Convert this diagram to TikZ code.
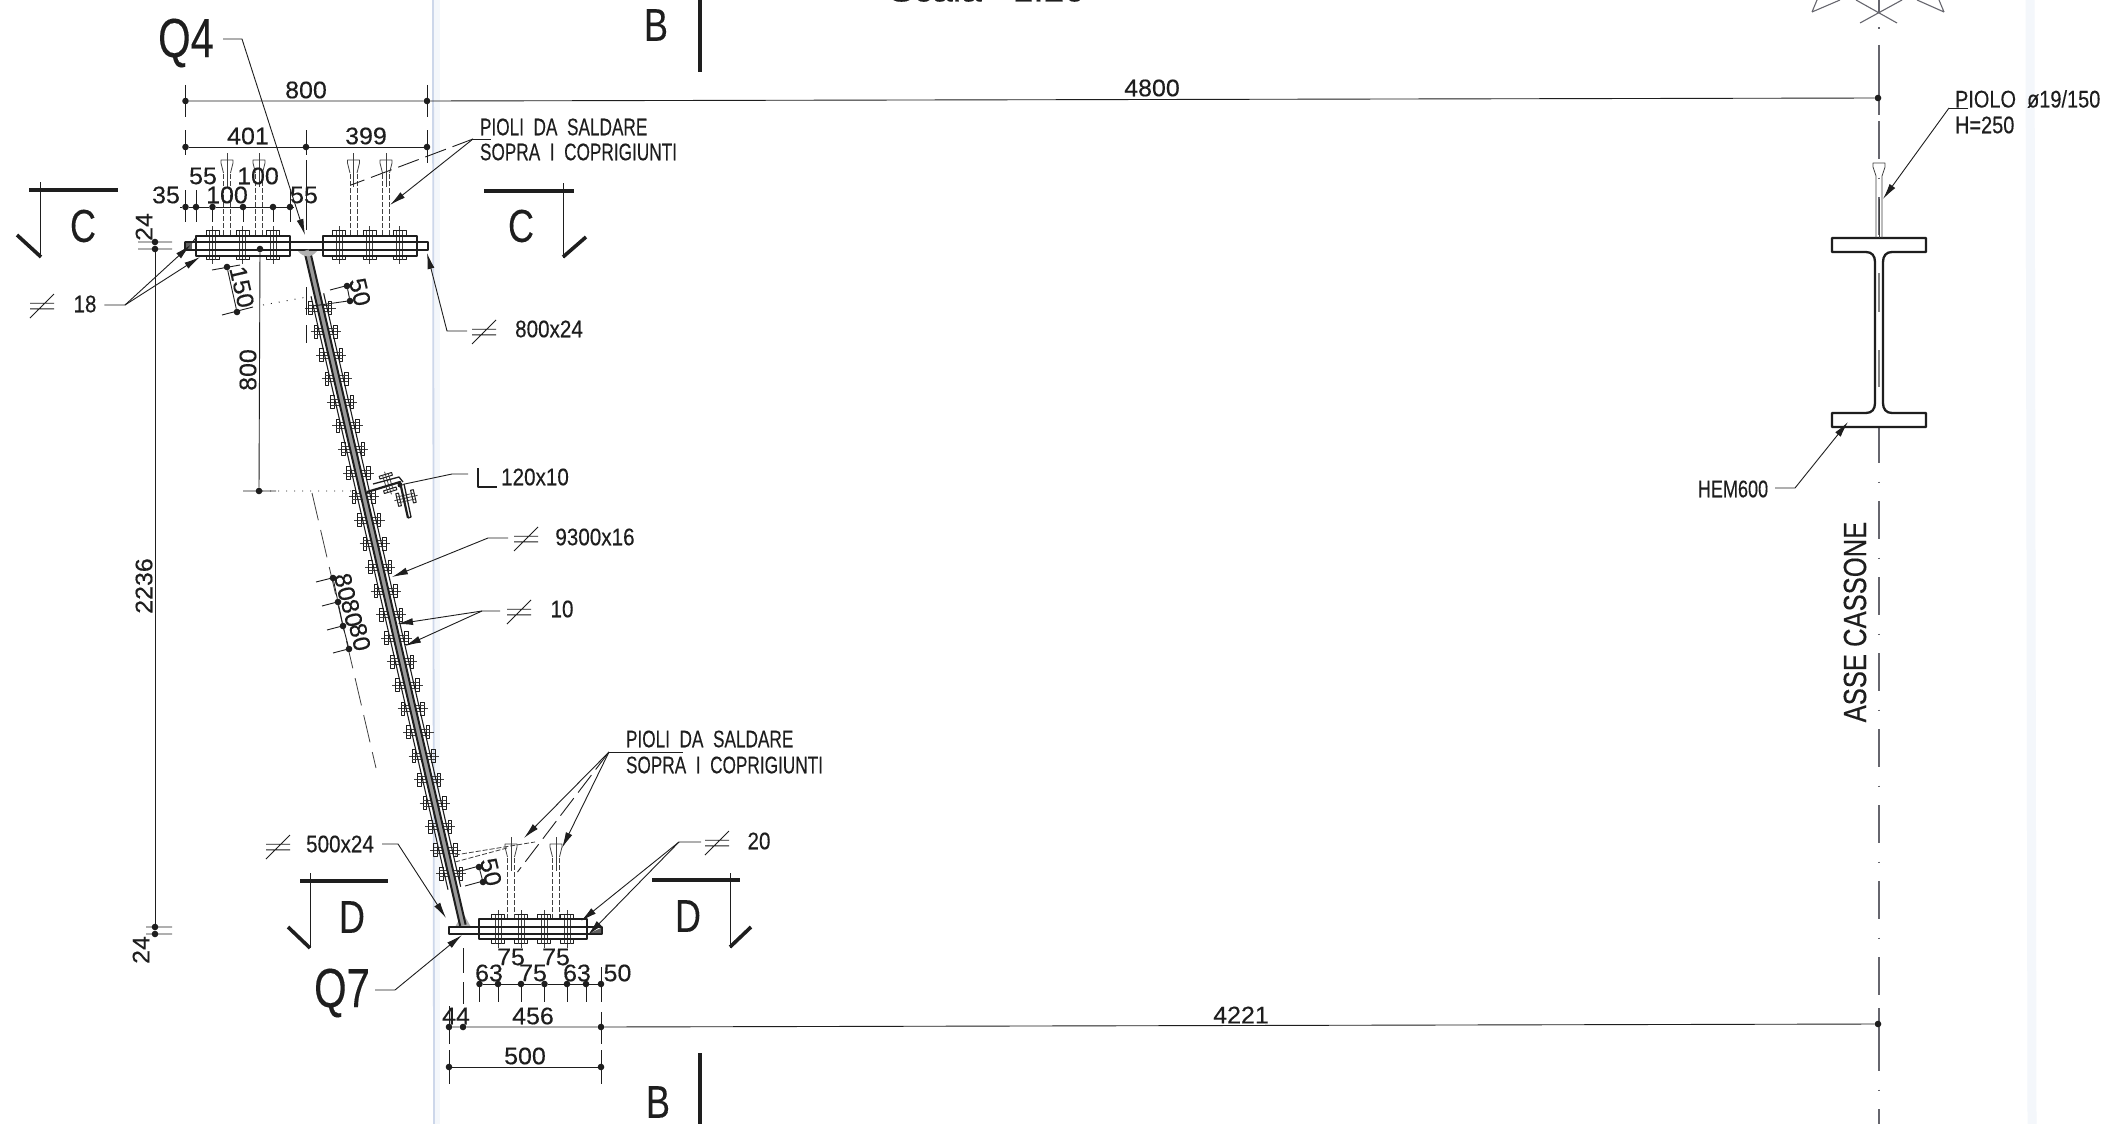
\documentclass[tikz,border=0pt]{standalone}
\usepackage{fontspec}
\setmainfont[FakeBold=0.25]{Liberation Sans}
\usetikzlibrary{arrows.meta}
\definecolor{ink}{HTML}{1E1E1E}
\definecolor{axisgray}{HTML}{66666E}
\definecolor{foldblue}{HTML}{CDD7EA}
\definecolor{foldpale}{HTML}{F4F7FB}
\begin{document}
\begin{tikzpicture}
[x=1pt,y=-1pt,line join=round]
\tikzset{every node/.style={text=ink,inner sep=0pt,outer sep=0pt}}
\tikzset{dimline/.style={draw=ink,line width=0.9pt},
         thinline/.style={draw=ink!85,line width=0.8pt},
         leader/.style={draw=ink,line width=0.9pt},
         tipped/.style={leader,-{Latex[length=16pt,width=7pt]}},
         plate/.style={draw=ink,line width=2.3pt},
         cover/.style={draw=ink,line width=1.3pt},
         sectionbar/.style={draw=ink,line width=4.4pt},
         sectiontick/.style={draw=ink,line width=3.6pt},
         dimdot/.style={circle,fill=ink,minimum size=6.6pt},
         dimtext/.style={font=\fontsize{24}{26}\selectfont,xscale=1.04,transform shape},
         labeltext/.style={font=\fontsize{24}{26}\selectfont,xscale=.86,transform shape},
         capstext/.style={font=\fontsize{24}{26}\selectfont,xscale=.717,transform shape},
         lettertext/.style={font=\fontsize{46}{48}\selectfont,xscale=.78,transform shape},
         bigtext/.style={font=\fontsize{55}{58}\selectfont,xscale=.76,transform shape},
         pics/bolt/.style={code={
             \draw[thinline] (0,-19) -- (0,19);
             \draw[cover,line width=1pt] (-6.5,-10) rectangle (6.5,-14.5) (-6.5,10) rectangle (6.5,14.5);
             \draw[thinline] (-3,-14.5) -- (-3,14.5) (3,-14.5) -- (3,14.5);
         }},
         pics/stud/.style={code={
             \draw[thinline] (0,-82) -- (0,-48);
             \draw[thinline,dash pattern=on 5pt off 2pt] (-3.5,0) -- (-3.5,-62) (3.5,0) -- (3.5,-62);
             \draw[thinline] (-3.5,-62) -- (-6,-72) -- (-6,-75) -- (6,-75) -- (6,-72) -- (3.5,-62);
         }},
         pics/platesign/.style={code={
             \draw[leader] (-12,-2.8) -- (12,-2.8) (-12,2.8) -- (12,2.8) (-12,12) -- (12,-12);
         }}}
\clip (0,0) rectangle (2113,1124);
\fill[white] (0,0) rectangle (2113,1124);
% scan folds
\draw[foldpale,line width=9pt] (2030,0) -- (2032,1124);
\draw[foldpale,line width=7pt] (436,0) -- (436,1124);
\draw[foldblue,line width=1.8pt] (433,0) -- (434,1124);

% beam axis
\draw[axisgray,line width=1.1pt,dash pattern=on 38pt off 18.5pt on 1.5pt off 18pt] (1879,45) -- (1879,1124);
\draw[axisgray,line width=1.1pt] (1879,0) -- (1879,12) (1879,83) -- (1879,115) (1879,1008) -- (1879,1069);
\fill[axisgray] (1878.3,27.5) rectangle (1879.7,29);
\draw[axisgray,line width=1.1pt] (1812,12) -- (1817,0) (1812,12) -- (1840,0)
    (1944,12) -- (1939,0) (1944,12) -- (1917,0)
    (1860,23) -- (1902,0) (1897,23) -- (1856,0);

% section marks
\draw[sectionbar] (29,190) -- (118,190);
\draw[leader] (40,182) -- (40,257);
\draw[sectiontick] (17,235) -- (41,257);
\draw[sectionbar] (484,191) -- (574,191);
\draw[leader] (563,183) -- (563,258);
\draw[sectiontick] (563,257) -- (586,237);
\draw[sectionbar] (300,881) -- (388,881);
\draw[leader] (310,873) -- (310,948);
\draw[sectiontick] (288,927) -- (310,948);
\draw[sectionbar] (652,880) -- (740,880);
\draw[leader] (730,873) -- (730,948);
\draw[sectiontick] (730,947) -- (751,927);
\draw[sectiontick] (700,0) -- (700,72);
\draw[sectiontick] (700,1053) -- (700,1124);
\foreach \x/\y/\t [count=\k] in {83/226/C,521/226/C,352/917/D,688/916/D,656/25/B,658/1102/B}
    \node[lettertext] (sect\k) at (\x,\y) {\t};

% top flange
\foreach \x in {212.5,242.5,273,339,369.5,399.5}
    \pic at (\x,245) {bolt};
\foreach \x in {227,259,353.5,386}
    \pic at (\x,235) {stud};
\draw[cover] (196,236) rectangle (290,256) (323,236) rectangle (417,256);
\draw[plate] (185.5,242) rectangle (428,250);
\fill[ink!70] (186,243) rectangle (192,249);
\draw[leader] (192,243) -- (197,236);

% bottom flange
\foreach \x in {498,521,544,567}
    \pic at (\x,929) {bolt};
\foreach \x in {511,556}
    \pic at (\x,919) {stud};
\fill[ink!35] (455,927) -- (463,913) -- (471,927) -- cycle;
\draw[cover] (479,919) rectangle (587,939);
\draw[plate] (449,927) rectangle (602,934);
\fill[ink!70] (590,933) -- (601,933) -- (601,928) -- cycle;

% sloping web
\begin{scope}[shift={(307,250)},rotate=13]
\foreach \i in {0,...,24}
    \pic[rotate=90,yscale=.8] at (0,{59.5+24.2*\i}) {bolt};
\fill[ink!45] (-2.5,0) rectangle (2.5,693);
\draw[plate,line width=2pt] (-2.8,0) -- (-2.8,693) (2.8,0) -- (2.8,693);
\draw[cover,line width=1.1pt] (-6.5,46) -- (-6.5,655) (6.5,46) -- (6.5,655);
\end{scope}
\fill[ink!35] (298,251) .. controls (303,258) and (312,258) .. (317,251) -- cycle;

% bracket angle
\pic[rotate=17,yscale=.62] at (388,483) {bolt};
\pic[rotate=-77,yscale=.62] at (406,498) {bolt};
\draw[plate,line width=2.2pt] (367,492) -- (400,482) -- (408,518);
\draw[cover] (373,484) -- (399,477) -- (403,482) (404,484) -- (411,517) -- (408,518);

% connection dashes
\draw[thinline,dash pattern=on 5pt off 2pt] (455,855) -- (535,842) (455,862) -- (507,848);
\draw[thinline,dash pattern=on 28pt off 10pt] (312,493) -- (376,768);
\draw[dimline,dash pattern=on 1pt off 7pt] (263,305) -- (307,297) (262,491) -- (352,491);

% dimension dots
\foreach \x/\y/\name in {185.5/101/a1,427/101/a2,1878/98/a3,185.5/147/b1,306/147/b2,427/147/b3,
    185.5/207/c1,196/207/c2,212.5/207/c3,243/207/c4,273/207/c5,290/207/c6,
    155/242/h1,155/249/h2,155/927/h3,155/934/h4,260/249/v1,259/491/v2,227/267/p1,237/312/p2,
    347/286/q1,350/301/q2,333/578/r1,338/602/r2,343/626/r3,349/649/r4,479/867/s1,483/882/s2,
    479.5/984/t1,498/984/t2,521/984/t3,544.5/984/t4,567/984/t5,586/984/t6,601/984/t7,
    449/1027/u1,463/1027/u2,601/1027/u3,1878/1024/u4,449/1067/w1,601/1067/w2}
    \node[dimdot] (\name) at (\x,\y) {};
\draw[dimline] (a1) -- (a2) -- (a3);
\draw[dimline] (b1) -- (b2) -- (b3);
\draw[dimline] (180,207) -- (c1) -- (c2) -- (c3) -- (c4) -- (c5) -- (c6) -- (294,207);
\draw[dimline] (h2) -- (h3);
\draw[dimline] (v1) -- (v2);
\draw[dimline] (p1) -- (p2);
\draw[dimline] (q1) -- (q2);
\draw[dimline] (s1) -- (s2);
\draw[dimline] (r1) -- (r2) -- (r3) -- (r4);
\draw[dimline] (t1) -- (t2) -- (t3) -- (t4) -- (t5) -- (t6) -- (t7);
\draw[dimline] (u1) -- (u2) -- (u3) -- (u4);
\draw[dimline] (w1) -- (w2);
% vertical ticks
\foreach \x/\a/\b in {185.5/85/117,427/85/117,185.5/130/155,306/130/155,427/130/163,
    185.5/190/222,196/190/222,212.5/207/222,243/207/222,273/207/222,290/190/222,306/160/230,
    306/287/315,306/325/343,479.5/984/1002,498/984/1002,521/984/1002,544.5/984/1002,567/984/1002,
    586/984/1002,601/967/1002,463/948/973,463/982/1004,449/1006/1044,601/1012/1044,449/1050/1084,601/1050/1084}
    \draw[dimline] (\x,\a) -- (\x,\b);
% cross ticks
\draw[dimline] (138,242) -- (172,242) (138,249) -- (172,249) (146,927) -- (172,927) (146,934) -- (172,934)
    (243,491) -- (276,491) (212,270) -- (240,265) (222,315) -- (253,307)
    (330,290) -- (353,284) (313,306) -- (355,300) (316,582) -- (336,577) (322,606) -- (341,601)
    (327,630) -- (346,625) (333,653) -- (352,648) (457,872) -- (483,865) (465,886) -- (487,880);

% texts of dimensions
\foreach \x/\y/\t [count=\k] in {306/90/800,1152/88/4800,248/136/401,366/136/399,166/195/35,203/176/55,227/195/100,
    258/176/100,304/195/55,489/973/63,511/957/75,533/973/75,556/957/75,577/973/63,617.5/973/50,456/1016/44,533/1016/456,
    1241/1015/4221,525/1056/500}
    \node[dimtext] (dimh\k) at (\x,\y) {\t};
\foreach \x/\y/\r/\t [count=\k] in {144/227/90/24,144/586/90/2236,141/950/90/24,248/370/90/800,242/287/-77/150,
    360/292/-77/50,345/587/-77/80,352/613/-77/80,360/637/-77/80,491/872/-77/50}
    \node[rotate=\r,dimtext] (dimv\k) at (\x,\y) {\t};

% big marks
\node[bigtext] (qfour) at (186,43) {Q4};
\draw[tipped] (223,39) -- (242,39) -- (305,235);
\node[bigtext] (qseven) at (342,993) {Q7};
\draw[tipped] (375,990) -- (395,990) -- (462,935);

% plate labels
\pic at (42,306) {platesign};
\node[labeltext] (lab18) at (85,304) {18};
\draw[tipped] (lab18.east) ++(8,1) -- (125,305) -- (190.5,245);
\draw[tipped] (125,305) -- (200,257);
\pic at (484,332) {platesign};
\node[labeltext] (lab800) at (549,329) {800x24};
\coordinate (knee800) at (447,331);
\draw[tipped] (467,331) -- (knee800) -- (427,253);
\pic at (526,539) {platesign};
\node[labeltext] (lab9300) at (595,537) {9300x16};
\draw[tipped] (508,538) -- (488,538) -- (392,577);
\pic at (519,612) {platesign};
\node[labeltext] (lab10) at (562,609) {10};
\draw[tipped] (500,611) -- (482,611) -- (397,624);
\draw[tipped] (482,611) -- (405,646);
\pic at (278,847) {platesign};
\node[labeltext] (lab500) at (340,844) {500x24};
\draw[tipped] (382,844) -- (398,844) -- (446,918);
\pic at (717,843) {platesign};
\node[labeltext] (lab20) at (759,841) {20};
\draw[tipped] (701,842) -- (679,842) -- (581,921);
\draw[tipped] (679,842) -- (588,935);

% angle label
\node[dimdot,minimum size=5pt] (angledot) at (400,485) {};
\node[labeltext] (lab120) at (535,477) {120x10};
\draw[leader] (angledot) -- (452,474) -- (468,474);
\draw[leader,line width=1.6pt] (478,468) -- (478,487) -- (497,487);

% stud notes
\node[capstext,anchor=west] (pioliA) at (480,127) {PIOLI\ \ DA\ \ SALDARE};
\node[capstext,anchor=west] (pioliB) at (480,152) {SOPRA\ \ I\ \ COPRIGIUNTI};
\draw[leader] (473,139) -- (491,139);
\draw[tipped] (473,139) -- (390,205);
\draw[leader,dash pattern=on 22pt off 7pt] (473,139) -- (351,185);
\node[capstext,anchor=west] (pioliC) at (626,739) {PIOLI\ \ DA\ \ SALDARE};
\node[capstext,anchor=west] (pioliD) at (626,765) {SOPRA\ \ I\ \ COPRIGIUNTI};
\draw[leader] (609,752) -- (683,752);
\draw[tipped] (609,752) -- (524,838);
\draw[tipped] (609,752) -- (562,848);
\draw[leader,dash pattern=on 22pt off 7pt] (609,752) -- (517.5,872);
\node[font=\fontsize{32}{34}\selectfont,anchor=base,xscale=1.16,transform shape] (scalenote) at (987,1.5) {Scala\ \ \ 1:20};

% HEM section
\fill[white] (1832,238) rectangle (1926,427);
\draw[plate] (1832,238) -- (1926,238) -- (1926,252) -- (1892,252)
    .. controls (1886,252) and (1883,256) .. (1883,262) -- (1883,403)
    .. controls (1883,409) and (1886,413) .. (1892,413) -- (1926,413) -- (1926,427) -- (1832,427) -- (1832,413) -- (1866,413)
    .. controls (1872,413) and (1875,409) .. (1875,403) -- (1875,262)
    .. controls (1875,256) and (1872,252) .. (1866,252) -- (1832,252) -- cycle;
\draw[ink!55,line width=2pt] (1879,273) -- (1879,312) (1879,350) -- (1879,387);
\draw[thinline] (1876,238) -- (1876,176) -- (1873,167) -- (1873,163) -- (1885,163) -- (1885,167) -- (1882,176) -- (1882,238);
\draw[thinline] (1879,238) -- (1879,199);
\node[capstext,anchor=west,xscale=1.16] (piolo) at (1955,99) {PIOLO\ \ ø19/150};
\node[capstext,anchor=west,xscale=1.16] (pioloH) at (1955,125) {H=250};
\draw[leader] (1968,108) -- (1949,108);
\draw[tipped] (1949,108) -- (1883,199);
\node[capstext,xscale=1.05] (hem) at (1733,489) {HEM600};
\draw[tipped] (1775,488) -- (1795,488) -- (1848,422);
\node[rotate=90,font=\fontsize{32}{34}\selectfont,xscale=.8,transform shape] (asse) at (1855,622) {ASSE CASSONE};
\end{tikzpicture}
\end{document}
